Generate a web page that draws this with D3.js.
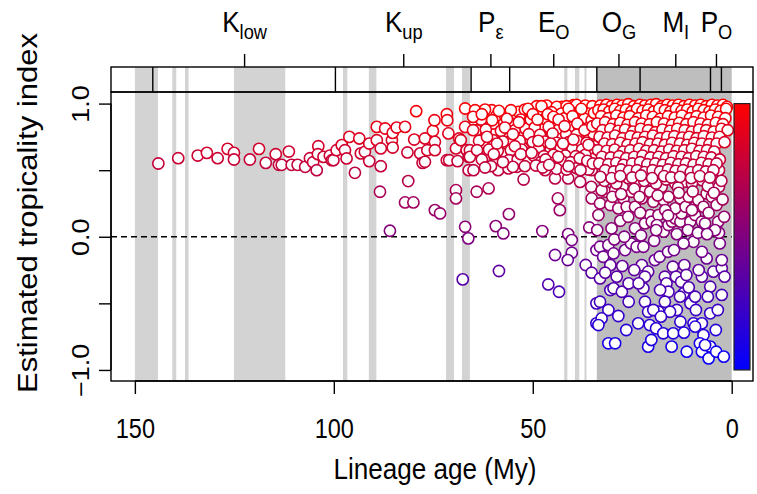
<!DOCTYPE html>
<html><head><meta charset="utf-8">
<script src="https://cdn.jsdelivr.net/npm/d3@7"></script>
<style>body{margin:0;background:#fff}svg{display:block}text{font-family:"Liberation Sans",Arial,Helvetica,sans-serif;fill:#000}</style>
</head><body>
<script>
// ---------- data ----------
const xTicks = [150, 100, 50, 0];
const yTicks = [-1, -0.5, 0, 0.5, 1];
const yTickLabels = {"-1": "\u22121.0", "0": "0.0", "1": "1.0"};
// geological boundaries (My) drawn in the top strip
const epochBounds = [145.5, 99.6, 65.5, 55.8, 33.9, 23.03, 5.332, 2.588];
// epoch labels: main letter, subscript, interval
const epochNames = ["K", "K", "P", "E", "O", "M", "P"];
const epochSubs = ["low", "up", "\u03b5", "O", "G", "I", "O"];
const epochRanges = [[145.5, 99.6], [99.6, 65.5], [65.5, 55.8], [55.8, 33.9], [33.9, 23.03], [23.03, 5.332], [5.332, 2.588]];
// light grey shaded intervals (My)
const lightBands = [[150, 144.2], [140.6, 139.6], [137.4, 136.5], [125.1, 112.2], [97.7, 96.6], [91.2, 89.3],
  [71.8, 69.8], [67.8, 65.8], [42.1, 41.3], [39.4, 38.3], [37.0, 36.5]];
// dark grey shaded interval (My)
const darkBands = [[33.9, 0]];

// lineages: [age (My), estimated tropicality index]
const oldLineages = [
 [144.1,.55],[139.1,.59],[134.2,.61],[131.9,.63],[129.2,.59],[126.7,.66],[125.1,.63],[125.1,.58],[121.1,.58],[118.8,.66],
 [117.1,.555],[114.6,.62],[113.8,.54],[113.1,.54],[111.3,.64],[110.6,.54],[109.1,.54],[107.2,.525],[106.0,.59],[105.2,.56],
 [104.3,.50],[103.9,.68],[104.0,.62],[102.6,.60],[101.0,.61],[100.5,.575]];
const cretaceousLineages = [
 [100.1,.575],[99.3,.65],[98.0,.688],[97.2,.65],[96.8,.588],[96.1,.75],[94.7,.48],[93.6,.738],[93.2,.626],[92.2,.638],
 [91.1,.70],[91.1,.568],[89.2,.825],[89.2,.725],[88.2,.663],[88.2,.53],[88.4,.338],[87.1,.813],[85.4,.725],[85.2,.67],
 [85.2,.78],[84.2,.82],[82.1,.825],[81.5,.633],[81.3,.418],[82.1,.258],[80.0,.258],[85.9,.045],[79.3,.943],[79.8,.73],
 [78.3,.626],[77.7,.555],[77.1,.563],[77.1,.738],[76.5,.65],[75.1,.795],[74.7,.875],[74.6,.713],[74.6,.65],[74.6,.20],
 [73.3,.175],[71.6,.92],[71.5,.875],[71.2,.776],[71.6,.575],[71.0,.575],[69.3,.35],[69.3,.288],[69.3,.663],[68.9,.568],
 [68.5,.738],[68.1,.725],[67.0,.963],[67.0,.825],[66.6,.65],[67.0,.075],[66.2,-.012],[67.6,-.32],[66.1,.60],[66.1,.50]];
const paleogeneLineages = [
 [65.8,.65],[64.9,.50],[65.8,.60],[64.1,.80],[62.4,.68],[61.1,.887],[61.1,.60],[59.9,.85],[60.3,.95],[59.1,.91],
 [57.0,.91],[58.7,.50],[57.8,.625],[56.1,.713],[56.1,.513],[55.3,.85],[54.0,.60],[54.0,.525],[53.6,.938],[52.8,.788],
 [52.1,.688],[52.3,.43],[51.5,.875],[51.1,.587],[49.8,.663],[49.4,.95],[49.4,.85],[47.7,.75],[47.3,.975],[46.9,.50],
 [46.5,.638],[45.6,.875],[44.4,.438],[44.4,.525],[43.9,.963],[42.7,.975],[43.6,.80],[42.7,.75],[42.3,.65],[41.1,.438],
 [40.6,.863],[40.2,.95],[39.8,.988],[39.4,.55],[38.5,.763],[38.1,.625],[38.1,.412],[37.3,.875],[36.1,.95],[35.6,.75],
 [35.2,.50],[34.8,.60],[33.5,.85],
 [64.1,.338],[61.1,.363],[56.0,.17],[59.3,.08],[57.4,.025],[47.6,.043],[43.7,.288],[43.2,.20],[41.1,.02],[40.2,-.025],
 [40.2,-.12],[41.2,-.175],[44.4,-.137],[46.1,-.358],[43.4,-.413],[58.5,-.257],[36.7,-.212],[35.2,-.27],[35.8,.07],[35.3,.375],
 [35.2,.288],[34.0,-.50],[34.0,-.65],[34.0,-.10],
 [64.5,.95],[62.0,.955],[58.5,.945],[55.5,.95],[52.0,.955],[63.0,.88],[60.2,.875],[56.5,.885],[53.0,.88],[50.8,.875],
 [65.0,.80],[61.8,.805],[58.0,.795],[54.5,.80],[51.8,.81],[63.5,.72],[60.0,.725],[57.5,.715],[53.2,.72],[50.5,.725],
 [64.0,.65],[61.0,.655],[58.8,.645],[55.5,.65],[52.8,.655],[62.8,.58],[59.5,.585],[56.0,.575],[53.8,.58],[51.0,.585],
 [60.5,.53],[55.0,.525],[52.0,.53],
 [49.0,.98],[46.5,.985],[44.0,.975],[41.5,.98],[39.0,.99],[36.8,.985],[35.0,.98],[48.0,.93],[45.3,.935],[42.8,.925],
 [40.5,.93],[38.0,.935],[36.0,.925],[50.5,.88],[47.0,.885],[44.5,.875],[42.0,.89],[39.6,.88],[37.0,.885],[35.2,.875],
 [49.5,.82],[46.0,.825],[43.2,.815],[40.8,.82],[38.4,.83],[36.2,.815],[51.0,.77],[48.2,.765],[45.0,.775],[41.6,.77],
 [39.0,.765],[34.8,.775],[50.0,.71],[47.0,.715],[44.0,.705],[41.0,.71],[38.8,.72],[36.5,.705],[48.5,.66],[45.5,.655],
 [43.0,.665],[40.0,.66],[37.6,.655],[35.5,.665],[49.8,.61],[47.2,.605],[44.8,.615],[41.8,.61],[39.2,.605],[36.8,.615],
 [48.0,.56],[45.0,.555],[42.5,.565],[40.5,.56],[37.8,.555],[44.0,.51],[41.5,.505],[39.0,.515],[36.0,.505],
 [65.0,.90],[62.8,.92],[61.5,.75],[59.0,.70],[57.0,.82],[55.0,.77],[53.5,.86],[51.2,.96],[50.0,.92],[48.8,.88],
 [47.8,.98],[46.2,.92],[45.5,.70],[44.8,.90],[43.5,.88],[42.0,.83],[41.0,.96],[40.0,.905],[38.8,.85],[37.8,.96],
 [37.0,.80],[36.0,.69],[35.0,.83],[34.6,.93],[48.6,.72],[46.8,.58],[43.6,.60],[42.4,.70],[39.8,.73],[38.2,.59],
 [36.3,.57],[34.9,.55],[49.2,.535],[47.5,.52],[45.9,.54],[41.0,.53],[38.0,.50],[57.5,.56],[62.0,.52],[59.8,.62],
 [54.5,.68],[53.0,.62],[50.3,.63]];
const neogeneLowLineages = [
 [33.1,-.075],[31.0,-.063],[32.3,-.15],[29.7,-.125],[30.5,-.213],[33.1,-.313],[28.9,-.30],[30.5,-.40],[29.7,-.387],[27.6,-.413],
 [25.9,-.35],[25.9,-.488],[33.1,-.488],[31.0,-.55],[32.7,-.613],[33.5,-.663],[28.5,-.595],[31.0,-.80],[29.3,-.80],[26.8,-.10],
 [25.3,-.05],[23.9,-.075],[22.2,-.075],[22.6,-.213],[21.0,-.262],[21.8,-.30],[22.2,-.387],[23.4,-.35],[21.8,-.488],[19.3,-.175],
 [18.1,-.15],[16.0,-.113],[16.8,-.30],[16.4,-.35],[14.8,-.225],[14.0,-.30],[12.7,-.338],[11.9,-.213],[11.4,-.287],[15.9,-.413],
 [16.8,-.488],[21.0,-.563],[18.4,-.563],[19.7,-.55],[20.6,-.663],[19.0,-.688],[17.2,-.725],[14.7,-.725],[13.8,-.55],[15.5,-.563],
 [12.9,-.638],[10.4,-.50],[12.1,-.425],[9.2,-.45],[7.5,-.30],[5.4,-.375],[4.6,-.262],[2.5,-.237],[2.5,-.175],[6.3,-.163],
 [7.5,-.113],[9.6,-.038],[12.1,-.05],[2.5,-.437],[5.4,-.575],[9.6,-.65],[7.5,-.65],[7.1,-.738],[9.2,-.675],[11.3,-.863],
 [15.1,-.825],[21.0,-.825],[20.2,-.775],[8.0,-.80],[7.5,-.863],[5.8,-.913],[5.4,-.825],[3.9,-.863],[6.7,-.813],[2.0,-.90],
 [27.5,-.22],[24.5,-.25],[18.0,-.40],[13.0,-.45],[10.8,-.38],[8.3,-.25],[6.0,-.45],[3.5,-.55],[4.0,-.70],[17.8,-.60],
 [23.5,-.65],[26.5,-.70],[12.0,-.72],[9.0,-.55],[3.0,-.05],[1.8,-.30],[14.5,-.10],[19.5,-.03],[29.5,-.02],[31.8,-.27],
 [33.5,.163],[30.2,.063],[24.3,.063],[21.8,.10],[20.5,.163],[20.1,.113],[18.4,.163],[18.8,.088],[17.1,.038],[15.9,.088],
 [15.0,.113],[14.2,.138],[12.9,.113],[12.6,.175],[10.4,.113],[9.2,.163],[7.5,.113],[6.7,.10],[3.4,.113],[3.2,.030],
 [33.1,.25],[31.8,.338],[30.5,.238],[29.3,.35],[28.5,.213],[27.2,.288],[26.4,.225],[24.3,.225],[25.2,.338],[22.6,.288],
 [21.8,.35],[20.5,.338],[19.7,.263],[17.1,.275],[15.9,.30],[14.2,.213],[14.2,.40],[12.9,.288],[11.6,.225],[10.8,.30],
 [9.2,.225],[8.4,.275],[7.1,.225],[6.3,.325],[5.0,.30],[3.8,.238],[3.2,.375],[3.2,.50],[4.2,.613],[32.7,.35],
 [31.0,.437],[27.4,.375],[23.7,.413],[17.6,.375],[11.8,.413],[7.5,.425],[5.4,.45],
 [32.0,.42],[29.0,.40],[26.0,.44],[24.5,.36],[22.0,.42],[19.0,.40],[16.5,.43],[13.5,.37],[10.0,.40],[6.0,.38],
 [2.6,.42],[30.0,.30],[27.8,.32],[23.2,.30],[18.6,.31],[16.7,.20],[13.3,.33],[9.8,.34],[4.5,.33],[2.3,.28],
 [33.8,.05],[28.0,.12],[26.0,.15],[23.0,.18],[19.0,.05],[13.8,.02],[11.0,.05],[8.5,.03],[5.8,.18],[4.2,.05],
 [1.9,.15],[27.0,.0],[22.8,.01],[16.0,.16],[10.0,.20],[6.2,.02]];
const neogeneHighLineages = [
 [33.0,.985],[31.5,.99],[30.2,.98],[28.8,.99],[27.5,.985],[26.0,.995],[24.6,.98],[23.1,.99],[21.8,.985],[20.3,.99],
 [19.0,.995],[17.6,.98],[16.2,.99],[14.8,.985],[13.4,.99],[12.0,.98],[10.6,.99],[9.2,.985],[7.8,.99],[6.4,.98],
 [5.0,.99],[3.6,.985],[2.2,.99],[1.2,.975],
 [33.5,.95],[32.2,.955],[30.8,.94],[29.4,.96],[28.0,.945],[26.6,.955],[25.2,.94],[23.8,.96],[22.4,.945],[21.0,.955],
 [19.6,.94],[18.2,.96],[16.8,.95],[15.4,.94],[14.0,.96],[12.6,.945],[11.2,.955],[9.8,.94],[8.4,.96],[7.0,.95],
 [5.6,.94],[4.2,.955],[2.8,.945],[1.4,.96],
 [32.8,.905],[31.0,.89],[29.0,.91],[27.2,.895],[25.6,.905],[23.5,.89],[21.5,.91],[19.8,.90],[18.0,.885],[16.0,.905],
 [14.3,.895],[12.5,.91],[10.5,.89],[8.8,.905],[7.0,.895],[5.2,.91],[3.4,.90],[1.6,.89],
 [33.8,.85],[31.8,.86],[29.8,.845],[28.0,.855],[26.2,.84],[24.3,.86],[22.6,.85],[20.6,.845],[18.8,.86],[17.0,.85],
 [15.0,.84],[13.2,.855],[11.4,.845],[9.6,.86],[7.8,.85],[6.0,.84],[4.0,.855],[2.2,.845],
 [32.5,.80],[30.5,.81],[28.5,.795],[26.8,.805],[24.8,.79],[22.9,.81],[21.0,.80],[19.2,.785],[17.4,.805],[15.5,.795],
 [13.7,.81],[11.8,.80],[10.0,.79],[8.2,.805],[6.4,.80],[4.5,.79],[2.6,.81],[1.0,.80],
 [33.2,.75],[31.2,.745],[29.3,.76],[27.4,.74],[25.4,.755],[23.6,.745],[21.8,.75],[19.8,.76],[18.0,.74],[16.2,.75],
 [14.4,.755],[12.4,.745],[10.7,.75],[8.8,.74],[7.0,.755],[5.0,.745],[3.1,.75],
 [32.0,.70],[30.0,.695],[28.0,.705],[26.2,.69],[24.2,.70],[22.4,.71],[20.5,.695],[18.6,.70],[16.8,.69],[15.0,.705],
 [13.0,.70],[11.2,.69],[9.4,.705],[7.5,.70],[5.6,.695],[3.8,.70],[1.8,.71],
 [33.6,.65],[31.4,.645],[29.4,.655],[27.3,.64],[25.5,.65],[23.3,.66],[21.5,.645],[19.5,.65],[17.6,.64],[15.7,.655],
 [13.8,.645],[11.9,.65],[10.0,.66],[8.1,.645],[6.2,.65],[4.4,.64],
 [32.6,.60],[30.4,.595],[28.3,.605],[26.5,.59],[24.5,.60],[22.4,.61],[20.4,.595],[18.4,.60],[16.5,.59],[14.6,.605],
 [12.6,.60],[10.8,.59],[8.9,.605],[7.0,.60],[5.1,.595],[3.0,.58],
 [33.3,.55],[31.0,.545],[29.0,.555],[27.2,.54],[25.0,.55],[23.0,.56],[21.2,.545],[19.2,.55],[17.3,.54],[15.3,.555],
 [13.4,.545],[11.5,.55],[9.6,.54],[7.6,.555],[5.8,.545],[3.8,.55],
 [31.8,.50],[29.6,.49],[27.8,.505],[25.8,.495],[23.8,.50],[21.9,.485],[19.9,.50],[18.0,.49],[16.0,.505],[14.1,.495],
 [12.2,.50],[10.3,.485],[8.4,.50],[6.5,.49],[4.6,.50],
 [33.0,.45],[30.2,.44],[28.0,.455],[25.0,.445],[22.8,.46],[20.0,.44],[17.0,.455],[15.2,.445],[13.0,.45],[10.2,.44],
 [8.0,.455],[5.5,.445]];

// ---------- layout ----------
const W = 757, H = 494;
const L = 111, R = 753, T = 92, B = 381, stripTop = 67;
const SX = 0.87; // horizontal condensation of the text
const FS = 27, FT = 30;

const svg = d3.select("body").append("svg").attr("width", W).attr("height", H);
svg.append("rect").attr("width", W).attr("height", H).attr("fill", "#fff");

const x = d3.scaleLinear().domain([156, -5.35]).range([L, R]);
const y = d3.scaleLinear().domain([-1.083, 1.087]).range([B, T]);
const col = d3.scaleLinear().domain([-1, 1]).range(["#0000ff", "#ff0000"]).interpolate(d3.interpolateRgb);

// bands in plot and strip
const bandG = svg.append("g");
function bands(list, fill) {
  bandG.selectAll(null).data(list).enter().append("rect")
    .attr("x", d => x(d[0])).attr("width", d => x(d[1]) - x(d[0]))
    .attr("y", stripTop).attr("height", B - stripTop).attr("fill", fill);
}
bands(lightBands, "#d3d3d3");
bands(darkBands, "#bebebe");

// strip boundaries
svg.append("g").selectAll("line").data(epochBounds).enter().append("line")
  .attr("x1", d => x(d)).attr("x2", d => x(d)).attr("y1", stripTop).attr("y2", T)
  .attr("stroke", "#000").attr("stroke-width", 1.4);

// zero reference
svg.append("line").attr("x1", L).attr("x2", x(0)).attr("y1", y(0)).attr("y2", y(0))
  .attr("stroke", "#000").attr("stroke-width", 1.4).attr("stroke-dasharray", "6,4");

// points
const allPts = [].concat(oldLineages, cretaceousLineages, paleogeneLineages, neogeneLowLineages, neogeneHighLineages);
svg.append("g").selectAll("circle").data(allPts).enter().append("circle")
  .attr("cx", d => x(d[0])).attr("cy", d => y(d[1])).attr("r", 5.6)
  .attr("fill", "#fff").attr("stroke", d => col(d[1])).attr("stroke-width", 1.6);

// boxes
svg.append("rect").attr("x", L).attr("y", T).attr("width", R - L).attr("height", B - T)
  .attr("fill", "none").attr("stroke", "#000").attr("stroke-width", 1.4);
svg.append("rect").attr("x", L).attr("y", stripTop).attr("width", R - L).attr("height", T - stripTop)
  .attr("fill", "none").attr("stroke", "#000").attr("stroke-width", 1.4);

// bottom axis
const xAxis = d3.axisBottom(x).tickValues(xTicks).tickSize(13).tickPadding(3).tickFormat(d3.format("d"));
const gx = svg.append("g").attr("transform", `translate(0,${B})`).call(xAxis);
gx.select(".domain").attr("d", `M${x(150)},0H${x(0)}`).attr("stroke-width", 1.4);
gx.selectAll(".tick line").attr("stroke-width", 1.4);
gx.selectAll(".tick text").remove();
gx.selectAll(".tick").append("text").attr("transform", `translate(0,57) scale(${SX},1)`)
  .attr("text-anchor", "middle").style("font-size", FS + "px").text(d => d);

// left axis
const yAxis = d3.axisLeft(y).tickValues(yTicks).tickSize(12).tickFormat(() => "");
const gy = svg.append("g").attr("transform", `translate(${L},0)`).call(yAxis);
gy.select(".domain").attr("d", `M0,${y(-1)}V${y(1)}`).attr("stroke-width", 1.4);
gy.selectAll(".tick line").attr("stroke-width", 1.4);
gy.selectAll(".tick text").remove();
gy.selectAll(".tick").filter(d => yTickLabels[String(d)] !== undefined).append("text")
  .attr("transform", `translate(-22,0) scale(${SX},1) rotate(-90)`)
  .attr("text-anchor", "middle").style("font-size", FS + "px")
  .text(d => yTickLabels[String(d)]);

// top axis with epoch labels
const mids = epochRanges.map(r => (r[0] + r[1]) / 2);
const xTop = d3.axisTop(x).tickValues(mids).tickSize(13).tickFormat(() => "");
const gt = svg.append("g").attr("transform", `translate(0,${stripTop})`).call(xTop);
gt.select(".domain").remove();
gt.selectAll(".tick line").attr("stroke-width", 1.4);
gt.selectAll(".tick text").remove();
gt.selectAll(".tick").each(function(d, i) {
  const t = d3.select(this).append("text").attr("transform", `translate(0,-35) scale(${SX},1)`)
    .attr("text-anchor", "middle").style("font-size", "30px");
  t.append("tspan").text(epochNames[i]);
  t.append("tspan").attr("dy", 7).style("font-size", "21px").text(epochSubs[i]);
});

// titles
svg.append("text").attr("transform", `translate(435,479) scale(${SX},1)`)
  .attr("text-anchor", "middle").style("font-size", FT + "px").text("Lineage age (My)");
svg.append("text").attr("transform", `translate(37,213) scale(${SX},1) rotate(-90)`)
  .attr("text-anchor", "middle").style("font-size", (FT + 1) + "px").text("Estimated tropicality index");

// colour bar
const defs = svg.append("defs");
const grad = defs.append("linearGradient").attr("id", "cbar").attr("x1", 0).attr("x2", 0).attr("y1", 0).attr("y2", 1);
grad.append("stop").attr("offset", "0%").attr("stop-color", col(1));
grad.append("stop").attr("offset", "100%").attr("stop-color", col(-1));
svg.append("rect").attr("x", 734).attr("y", y(1)).attr("width", 16).attr("height", y(-1) - y(1))
  .attr("fill", "url(#cbar)").attr("stroke", "#222").attr("stroke-width", 1.2);
</script>
</body></html>
